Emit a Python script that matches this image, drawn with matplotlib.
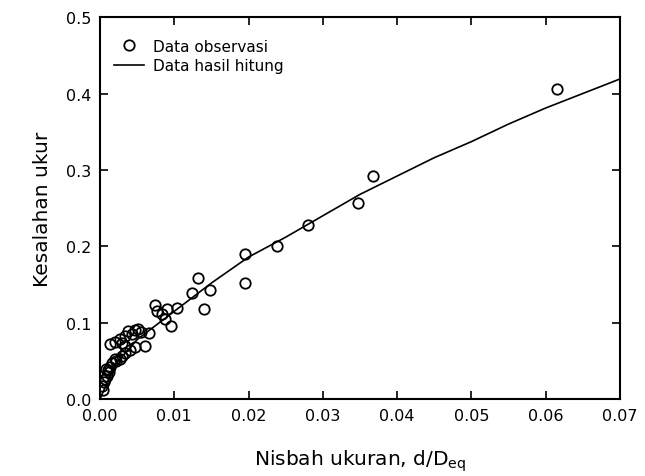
import matplotlib
matplotlib.use("Agg")
import matplotlib.pyplot as plt

plt.rcParams['font.family'] = ['DejaVu Sans']

x_obs = [0.0003, 0.0005, 0.0007, 0.0010, 0.0012, 0.0004, 0.0008, 0.0013, 0.0016, 0.0011,
         0.0020, 0.0022, 0.0027, 0.0030, 0.0034, 0.0013, 0.0020, 0.0027, 0.0034, 0.0038,
         0.0043, 0.0047, 0.0051, 0.0055, 0.0040, 0.0034, 0.0030, 0.0047, 0.0061, 0.0066,
         0.0074, 0.0077, 0.0083, 0.0088, 0.0090, 0.0096, 0.0104, 0.0124, 0.0132, 0.0140,
         0.0148, 0.0195, 0.0195, 0.0238, 0.0280, 0.0347, 0.0368, 0.0615]
y_obs = [0.017, 0.022, 0.026, 0.030, 0.035, 0.012, 0.040, 0.042, 0.048, 0.038,
         0.052, 0.050, 0.052, 0.056, 0.060, 0.072, 0.075, 0.079, 0.083, 0.089,
         0.085, 0.090, 0.092, 0.088, 0.065, 0.070, 0.073, 0.068, 0.070, 0.086,
         0.123, 0.115, 0.111, 0.105, 0.118, 0.096, 0.119, 0.139, 0.158, 0.118,
         0.143, 0.190, 0.152, 0.200, 0.228, 0.257, 0.292, 0.406]

# Calculated curve
x_calc = [0.0, 0.002, 0.005, 0.010, 0.015, 0.020, 0.025, 0.030, 0.035,
          0.040, 0.045, 0.050, 0.055, 0.060, 0.065, 0.070]
y_calc = [0.0, 0.045, 0.078, 0.115, 0.152, 0.186, 0.212, 0.240, 0.268,
          0.292, 0.316, 0.337, 0.360, 0.381, 0.400, 0.419]

x_ticks = [0.00, 0.01, 0.02, 0.03, 0.04, 0.05, 0.06, 0.07]
x_ticklabels = ["0.00", "0.01", "0.02", "0.03", "0.04", "0.05", "0.06", "0.07"]
y_ticks = [0.0, 0.1, 0.2, 0.3, 0.4, 0.5]
y_ticklabels = ["0.0", "0.1", "0.2", "0.3", "0.4", "0.5"]

fig = plt.figure(figsize=(6.45, 4.77), dpi=100)
ax = fig.add_axes([0.155, 0.161, 0.806, 0.801])

ax.plot(x_calc, y_calc, color='black', linewidth=1.2, label='Data hasil hitung', zorder=2)
ax.plot(x_obs, y_obs, linestyle='none', marker='o', markersize=7.5,
        markerfacecolor='none', markeredgecolor='black', markeredgewidth=1.3,
        label='Data observasi', zorder=3)

ax.set_xlim(0, 0.07)
ax.set_ylim(0, 0.5)
ax.set_xticks(x_ticks)
ax.set_xticklabels(x_ticklabels)
ax.set_yticks(y_ticks)
ax.set_yticklabels(y_ticklabels)
ax.tick_params(direction='in', top=True, right=True, length=6, width=1.2,
               labelsize=11.5, pad=6)
for s in ax.spines.values():
    s.set_linewidth(1.5)

ax.set_xlabel('Nisbah ukuran, d/D$_\\mathregular{eq}$', fontsize=14.5, labelpad=18)
ax.set_ylabel('Kesalahan ukur', fontsize=14.5, labelpad=10)

h, l = ax.get_legend_handles_labels()
ax.legend([h[1], h[0]], [l[1], l[0]], loc='upper left', frameon=False,
          fontsize=11, bbox_to_anchor=(0.0, 0.98), handlelength=2.0,
          handletextpad=0.6, labelspacing=0.3)

fig.savefig('out.png', dpi=100)
